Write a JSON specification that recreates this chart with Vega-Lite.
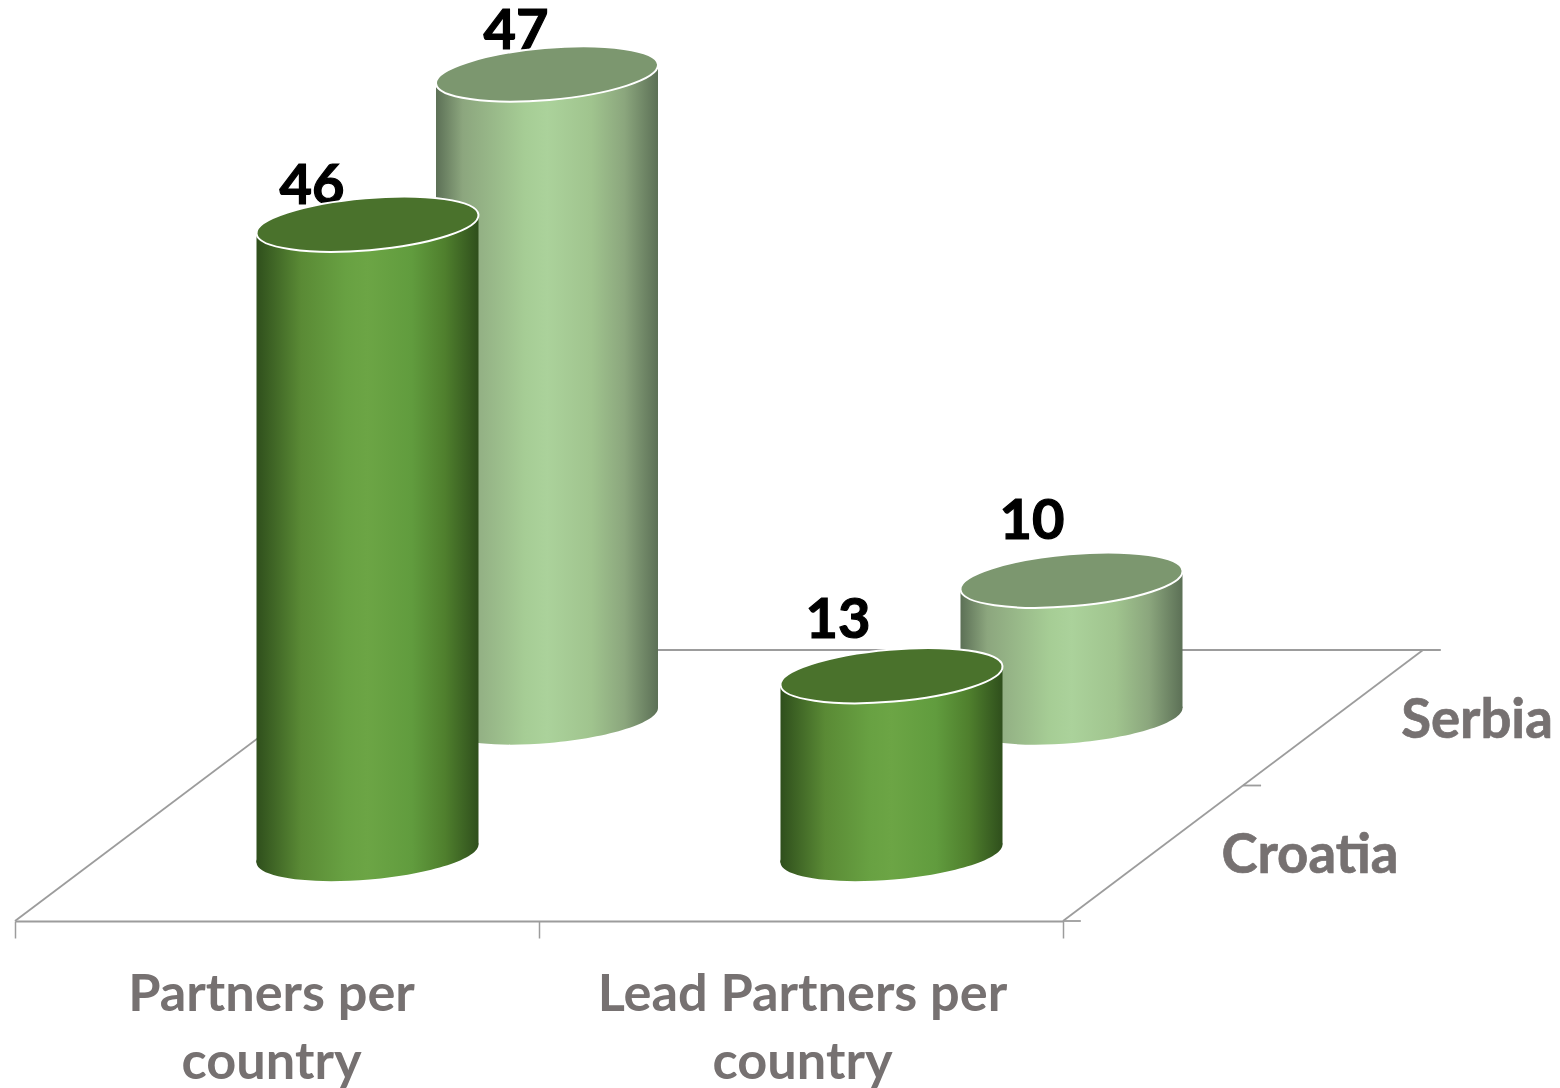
{"$schema":"https://vega.github.io/schema/vega-lite/v6.json","width":1560,"height":1088,"padding":0,"autosize":"none","background":"white","config":{"view":{"stroke":null}},
"datasets":{"bars":[{"metric":"Partners per country","country":"Croatia","value":46},{"metric":"Lead Partners per country","country":"Croatia","value":13},{"metric":"Partners per country","country":"Serbia","value":47},{"metric":"Lead Partners per country","country":"Serbia","value":10}],
"floor":[{"seg":"right","gx":2,"depth":0},{"seg":"right","gx":2.687,"depth":2},{"seg":"back","gx":2.721,"depth":2},{"seg":"back","gx":0.687,"depth":2},{"seg":"left","gx":0,"depth":0},{"seg":"left","gx":0.687,"depth":2},{"seg":"tick0","gx":2,"depth":0},{"seg":"tick0","gx":2.034,"depth":0},{"seg":"tick1","gx":2.3435,"depth":1},{"seg":"tick1","gx":2.378,"depth":1}]},
"data":{"name":"bars"},
"layer":[
{"data":{"name":"floor"},"mark":{"type":"line","stroke":"#9c9c9c","strokeWidth":1.8},"encoding":{"x":{"field":"gx","type":"quantitative","axis":null,"scale":{"domain":[0,2],"range":[15,1063]}},"y":{"field":"depth","type":"quantitative","axis":null,"scale":{"domain":[0,2],"range":[921,650]}},"detail":{"field":"seg"},"order":{"field":"gx"}}},
{"mark":{"type":"rule","opacity":0},"encoding":{"x":{"field":"metric","type":"nominal","sort":null,"scale":{"type":"band","domain":["Partners per country","Lead Partners per country"],"range":[15,1063],"padding":0},"axis":{"title":null,"orient":"bottom","offset":-167,"labelAngle":0,"tickBand":"extent","tickSize":17,"tickColor":"#9c9c9c","tickWidth":1.5,"domainColor":"#9c9c9c","domainWidth":2.2,"labelFont":"Lato","labelFontWeight":"bold","labelFontSize":52.3,"labelColor":"#767171","labelPadding":31,"labelLineHeight":68,"labelLimit":1000,"labelOverlap":false,"labelBound":false,"labelFlush":false,"labelOffset":{"expr":"datum.value == 'Partners per country' ? -6 : 1"},"labelExpr":"datum.label == '' ? '' : datum.value == 'Partners per country' ? ['Partners per','country'] : ['Lead Partners per','country']"}}}},
{"data":{"values":[{"country":"Croatia"},{"country":"Serbia"}]},"mark":{"type":"text","font":"Lato","fontWeight":"bold","fontSize":54.5,"fill":"#767171","stroke":"#767171","strokeWidth":0.7,"dy":1},"encoding":{"text":{"field":"country"},"x":{"field":"country","type":"nominal","axis":null,"scale":{"type":"point","padding":0,"domain":["Croatia","Serbia"],"range":[1310,1477]}},"y":{"field":"country","type":"nominal","axis":null,"scale":{"type":"point","padding":0,"domain":["Croatia","Serbia"],"range":[856,721]}}}},
{"transform":[{"filter":"datum.country == 'Serbia'"}],"mark":{"type":"text","font":"Lato","fontWeight":"bold","fontSize":56,"fill":"#000000","stroke":"#000000","strokeWidth":1.2,"dy":2},"encoding":{"text":{"field":"value"},"x":{"field":"metric","type":"nominal","axis":null,"scale":{"type":"point","padding":0,"domain":["Partners per country","Lead Partners per country"],"range":[516,1032]}},"y":{"field":"value","type":"quantitative","axis":null,"scale":{"domain":[-32.9,49.27],"range":[1088,0]}}}},
{"transform":[{"filter":"datum.country == 'Serbia'"}],"encoding":{"x":{"field":"metric","type":"nominal","axis":null,"scale":{"type":"point","padding":0,"domain":["Partners per country","Lead Partners per country"],"range":[547,1071.5]}},"y":{"field":"value","type":"quantitative","axis":null,"scale":{"domain":[-27.12,52.41],"range":[1088,0]}}},"layer":[
{"mark":{"type":"point","filled":true,"opacity":1,"size":49284,"shape":"M-0.9998,0.0862A1.0035,0.2344,-4.93,1,1,0.9998,-0.0862A1.0035,0.2344,-4.93,1,1,-0.9998,0.0862Z","fill":{"gradient":"linear","x1":0,"y1":0,"x2":1,"y2":0,"stops":[{"offset":0,"color":"#5c7056"},{"offset":0.12,"color":"#8ca67e"},{"offset":0.4,"color":"#a6cd95"},{"offset":0.5,"color":"#abd29b"},{"offset":0.7,"color":"#a0c48e"},{"offset":0.85,"color":"#8ba67d"},{"offset":1,"color":"#5c7056"}]}},"encoding":{"y":{"datum":0,"type":"quantitative"}}},
{"mark":{"type":"bar","width":111.5,"xOffset":-55.25,"yOffset":9,"y2Offset":9,"fill":{"gradient":"linear","x1":0,"y1":0,"x2":1,"y2":0,"stops":[{"offset":0,"color":"#5c7056"},{"offset":0.24,"color":"#8ca67e"},{"offset":0.8,"color":"#a6cd95"},{"offset":1,"color":"#abd29b"}]}},"encoding":{"y2":{"datum":0}}},
{"mark":{"type":"bar","width":111.5,"xOffset":55.25,"yOffset":-9,"y2Offset":-9,"fill":{"gradient":"linear","x1":0,"y1":0,"x2":1,"y2":0,"stops":[{"offset":0,"color":"#abd29b"},{"offset":0.4,"color":"#a0c48e"},{"offset":0.7,"color":"#8ba67d"},{"offset":1,"color":"#5c7056"}]}},"encoding":{"y2":{"datum":0}}},
{"mark":{"type":"point","filled":true,"opacity":1,"size":49284,"shape":"M-0.9998,0.0862A1.0035,0.2344,-4.93,1,1,0.9998,-0.0862A1.0035,0.2344,-4.93,1,1,-0.9998,0.0862Z","fill":"#7c976f","stroke":"#ffffff","strokeWidth":2}}
]},
{"transform":[{"filter":"datum.country == 'Croatia'"}],"mark":{"type":"text","font":"Lato","fontWeight":"bold","fontSize":56,"fill":"#000000","stroke":"#000000","strokeWidth":1.2,"dy":1},"encoding":{"text":{"field":"value"},"x":{"field":"metric","type":"nominal","axis":null,"scale":{"type":"point","padding":0,"domain":["Partners per country","Lead Partners per country"],"range":[312,838]}},"y":{"field":"value","type":"quantitative","axis":null,"scale":{"domain":[-22.6,60.14],"range":[1088,0]}}}},
{"transform":[{"filter":"datum.country == 'Croatia'"}],"encoding":{"x":{"field":"metric","type":"nominal","axis":null,"scale":{"type":"point","padding":0,"domain":["Partners per country","Lead Partners per country"],"range":[367.5,891.5]}},"y":{"field":"value","type":"quantitative","axis":null,"scale":{"domain":[-17.14,62.39],"range":[1088,0]}}},"layer":[
{"mark":{"type":"point","filled":true,"opacity":1,"size":49284,"shape":"M-0.9998,0.0862A1.0035,0.2344,-4.93,1,1,0.9998,-0.0862A1.0035,0.2344,-4.93,1,1,-0.9998,0.0862Z","fill":{"gradient":"linear","x1":0,"y1":0,"x2":1,"y2":0,"stops":[{"offset":0,"color":"#2f4f1c"},{"offset":0.2,"color":"#5a8a35"},{"offset":0.4,"color":"#68a142"},{"offset":0.5,"color":"#6ca545"},{"offset":0.7,"color":"#619c3e"},{"offset":0.85,"color":"#4f7f2d"},{"offset":1,"color":"#2f4f1c"}]}},"encoding":{"y":{"datum":0,"type":"quantitative"}}},
{"mark":{"type":"bar","width":111.5,"xOffset":-55.25,"yOffset":9,"y2Offset":9,"fill":{"gradient":"linear","x1":0,"y1":0,"x2":1,"y2":0,"stops":[{"offset":0,"color":"#2f4f1c"},{"offset":0.4,"color":"#5a8a35"},{"offset":0.8,"color":"#68a142"},{"offset":1,"color":"#6ca545"}]}},"encoding":{"y2":{"datum":0}}},
{"mark":{"type":"bar","width":111.5,"xOffset":55.25,"yOffset":-9,"y2Offset":-9,"fill":{"gradient":"linear","x1":0,"y1":0,"x2":1,"y2":0,"stops":[{"offset":0,"color":"#6ca545"},{"offset":0.4,"color":"#619c3e"},{"offset":0.7,"color":"#4f7f2d"},{"offset":1,"color":"#2f4f1c"}]}},"encoding":{"y2":{"datum":0}}},
{"mark":{"type":"point","filled":true,"opacity":1,"size":49284,"shape":"M-0.9998,0.0862A1.0035,0.2344,-4.93,1,1,0.9998,-0.0862A1.0035,0.2344,-4.93,1,1,-0.9998,0.0862Z","fill":"#4a722c","stroke":"#ffffff","strokeWidth":2}}
]}
],
"resolve":{"scale":{"x":"independent","y":"independent"},"axis":{"x":"independent","y":"independent"}}}
